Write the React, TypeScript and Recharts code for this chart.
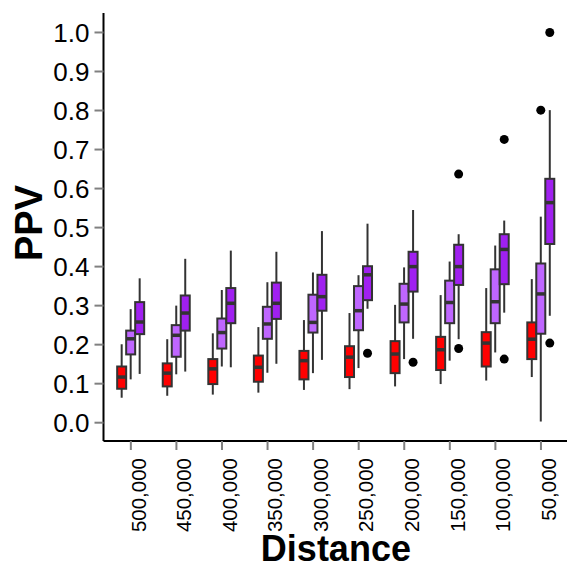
import { Bar, ComposedChart, Label, XAxis, YAxis } from "recharts"

/* ---------- data ---------- */

const distances = [
  "500,000", "450,000", "400,000", "350,000", "300,000",
  "250,000", "200,000", "150,000", "100,000", "50,000",
]

// [lower whisker, q1, median, q3, upper whisker]
const redStats = [
  [0.064, 0.087, 0.117, 0.144, 0.201],
  [0.069, 0.093, 0.127, 0.152, 0.214],
  [0.072, 0.099, 0.138, 0.163, 0.229],
  [0.077, 0.105, 0.142, 0.172, 0.245],
  [0.084, 0.111, 0.159, 0.184, 0.263],
  [0.086, 0.117, 0.168, 0.196, 0.281],
  [0.093, 0.127, 0.176, 0.209, 0.302],
  [0.099, 0.135, 0.187, 0.22, 0.327],
  [0.108, 0.144, 0.204, 0.232, 0.345],
  [0.117, 0.163, 0.214, 0.257, 0.368],
]

const lightStats = [
  [0.111, 0.175, 0.215, 0.236, 0.291],
  [0.124, 0.169, 0.224, 0.25, 0.3],
  [0.144, 0.19, 0.231, 0.267, 0.34],
  [0.128, 0.215, 0.253, 0.297, 0.36],
  [0.127, 0.231, 0.257, 0.328, 0.385],
  [0.14, 0.237, 0.287, 0.35, 0.378],
  [0.163, 0.257, 0.304, 0.356, 0.398],
  [0.159, 0.255, 0.308, 0.364, 0.413],
  [0.18, 0.255, 0.31, 0.393, 0.454],
  [0.003, 0.228, 0.33, 0.408, 0.528],
]

const purpleStats = [
  [0.125, 0.227, 0.258, 0.309, 0.37],
  [0.131, 0.236, 0.281, 0.326, 0.42],
  [0.142, 0.255, 0.306, 0.345, 0.441],
  [0.151, 0.266, 0.306, 0.359, 0.438],
  [0.161, 0.287, 0.323, 0.379, 0.491],
  [0.292, 0.314, 0.379, 0.401, 0.51],
  [0.215, 0.336, 0.4, 0.438, 0.545],
  [0.214, 0.353, 0.4, 0.456, 0.483],
  [0.282, 0.355, 0.444, 0.483, 0.518],
  [0.274, 0.458, 0.564, 0.625, 0.801],
]

const redOutliers: number[][] = [[], [], [], [], [], [], [], [], [], []]
const lightOutliers: number[][] = [[], [], [], [], [], [], [], [], [], [0.801]]
const purpleOutliers: number[][] = [
  [], [], [], [], [], [0.178], [0.155], [0.637, 0.19], [0.726, 0.163], [1.0, 0.204],
]

const yTicks = [0, 0.1, 0.2, 0.3, 0.4, 0.5, 0.6, 0.7, 0.8, 0.9, 1.0]

const series = [
  { key: "red", stats: redStats, outliers: redOutliers, color: "#FF0000" },
  { key: "light", stats: lightStats, outliers: lightOutliers, color: "#BF66FF" },
  { key: "purple", stats: purpleStats, outliers: purpleOutliers, color: "#A020F0" },
]

const rows = distances.map((d, i) => {
  const row: Record<string, unknown> = { distance: d }
  series.forEach((s) => {
    const st = s.stats[i]
    row[s.key + "Range"] = [st[0], st[4]]
    row[s.key + "Stats"] = st
    row[s.key + "Out"] = s.outliers[i]
  })
  return row
})

const FONT = "'Liberation Sans', Arial, Helvetica, sans-serif"
const LINE = "#333333"

/* ---------- box shape: the bar spans whisker to whisker ---------- */

function BoxShape(props: any) {
  const { x, y, width, height, payload, seriesKey, color } = props
  const [lo, q1, med, q3, hi] = payload[seriesKey + "Stats"] as number[]
  const outs = payload[seriesKey + "Out"] as number[]
  const top = Math.min(y, y + height)
  const span = Math.abs(height)
  const toY = (v: number) => top + ((hi - v) / (hi - lo)) * span
  const cx = x + width / 2
  return (
    <g>
      <line x1={cx} x2={cx} y1={toY(hi)} y2={toY(lo)} stroke={LINE} strokeWidth={2} />
      <rect
        x={x}
        y={toY(q3)}
        width={width}
        height={toY(q1) - toY(q3)}
        fill={color}
        stroke={LINE}
        strokeWidth={2}
      />
      <line x1={x} x2={x + width} y1={toY(med)} y2={toY(med)} stroke={LINE} strokeWidth={3.5} />
      {outs.map((o, i) => (
        <circle key={i} cx={cx} cy={toY(o)} r={4.5} fill="#000" />
      ))}
    </g>
  )
}

function DistanceTick({ x, y, payload }: any) {
  return (
    <g transform={`translate(${x},${y})`}>
      <text
        transform="rotate(-90)"
        x={-6}
        y={0}
        dy="0.72em"
        textAnchor="end"
        fontSize={20.5}
        fontFamily={FONT}
        fill="#000"
      >
        {payload.value}
      </text>
    </g>
  )
}

function PpvTitle({ viewBox }: any) {
  const cy = viewBox.y + viewBox.height / 2 - 4
  const bx = 42
  return (
    <text
      x={bx}
      y={cy}
      transform={`rotate(-90, ${bx}, ${cy})`}
      textAnchor="middle"
      fontSize={38}
      fontWeight="bold"
      fontFamily={FONT}
      fill="#000"
    >
      PPV
    </text>
  )
}

function DistanceTitle({ viewBox }: any) {
  const cx = viewBox.x + viewBox.width / 2
  return (
    <text
      x={cx}
      y={561}
      textAnchor="middle"
      fontSize={36}
      fontWeight="bold"
      fontFamily={FONT}
      fill="#000"
    >
      Distance
    </text>
  )
}

export default function App() {
  return (
    <div
      style={{
        position: "absolute",
        left: 0,
        top: 0,
        width: 567,
        height: 569,
        overflow: "hidden",
        background: "#fff",
      }}
    >
      <ComposedChart
        width={569}
        height={569}
        data={rows}
        margin={{ top: 13, right: 0.7, left: 0, bottom: 0 }}
        barGap={0}
        barCategoryGap="20%"
      >
        <XAxis
          dataKey="distance"
          interval={0}
          height={128}
          padding={{ left: 4.56, right: 4.56 }}
          axisLine={{ stroke: "#000", strokeWidth: 2 }}
          tickLine={{ stroke: "#808080", strokeWidth: 2 }}
          tickSize={9}
          tickMargin={2}
          tick={<DistanceTick />}
        >
          <Label content={<DistanceTitle />} />
        </XAxis>
        <YAxis
          type="number"
          domain={[-0.0469, 1.0499]}
          allowDataOverflow
          ticks={yTicks}
          width={103.5}
          tickFormatter={(v: number) => v.toFixed(1)}
          axisLine={{ stroke: "#000", strokeWidth: 2 }}
          tickLine={{ stroke: "#808080", strokeWidth: 2 }}
          tickSize={9}
          tickMargin={5}
          tick={{ fontSize: 26, fill: "#000", fontFamily: FONT }}
        >
          <Label content={<PpvTitle />} />
        </YAxis>
        {series.map((s) => (
          <Bar
            key={s.key}
            dataKey={s.key + "Range"}
            isAnimationActive={false}
            shape={(p: any) => <BoxShape {...p} seriesKey={s.key} color={s.color} />}
          />
        ))}
      </ComposedChart>
    </div>
  )
}
